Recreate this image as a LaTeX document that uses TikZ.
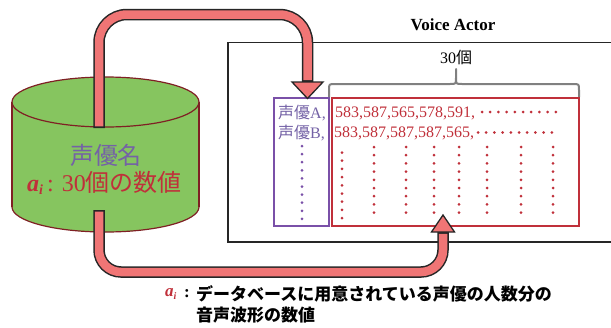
\documentclass[tikz,border=0pt]{standalone}
\usepackage{fontspec}
\setmainfont{Liberation Serif}
\newfontfamily\jp{Noto Sans CJK JP}
\definecolor{arrowpink}{HTML}{F07575}
\definecolor{cylgreen}{HTML}{86C55F}
\definecolor{cylline}{HTML}{7F2024}
\definecolor{vpurple}{HTML}{7A50A8}
\definecolor{tpurple}{HTML}{7462A6}
\definecolor{vred}{HTML}{C0303A}
\definecolor{bracegray}{HTML}{808080}
\tikzset{
  dotmark/.style={circle,inner sep=0pt,minimum size=3pt,fill=#1},
  arrowout/.style={line width=11.5pt,draw=black!85},
  arrowin/.style={line width=8.5pt,draw=arrowpink},
  headstyle/.style={fill=arrowpink,draw=black!85,line width=1.3pt,line join=miter},
}
\begin{document}
\begin{tikzpicture}[x=1pt,y=-1pt]
\useasboundingbox (0,0) rectangle (611,327);
% Voice Actor frame
\draw[line width=1.5pt,black!85] (613,42.5) -- (228,42.5) -- (228,242) -- (613,242);
\node[font=\fontsize{17}{17}\selectfont\bfseries] (title) at (453,25) {Voice Actor};
\node[font=\fontsize{16}{16}\selectfont] (count) at (456,57) {30{\jp 個}};
% brace
\draw[bracegray,line width=2pt,line cap=round]
  (329,97) -- (329,90) .. controls (329,84) .. (335,84) -- (450,84) .. controls (456,84) .. (456,78) -- (456,69);
\draw[bracegray,line width=2pt,line cap=round]
  (456,78) .. controls (456,84) .. (462,84) -- (573,84) .. controls (579,84) .. (579,90) -- (579,97);
% boxes
\node[draw=vpurple,line width=1.5pt,minimum width=55pt,minimum height=128pt,inner sep=0pt] (namebox) at (301.5,162) {};
\node[draw=vred,line width=1.5pt,minimum width=247pt,minimum height=128pt,inner sep=0pt] (valbox) at (455.5,162) {};
% row texts
\node[anchor=west,inner sep=0pt,text=tpurple,font=\fontsize{16}{16}\selectfont] (na) at (278,113) {{\jp 声優}A,};
\node[anchor=west,inner sep=0pt,text=tpurple,font=\fontsize{16}{16}\selectfont] (nb) at (278,133) {{\jp 声優}B,};
\node[anchor=west,inner sep=0pt,text=vred,font=\fontsize{16}{16}\selectfont] (va) at (335,113) {583,587,565,578,591,};
\node[anchor=west,inner sep=0pt,text=vred,font=\fontsize{16}{16}\selectfont] (vb) at (334,133) {583,587,587,587,565,};
% row dots
\foreach \i in {0,...,9} {
  \node[dotmark=vred] at (482+\i*8.2,112) {};
  \node[dotmark=vred] at (478+\i*8.2,132.5) {};
}
% purple column dots
\foreach \i in {0,...,9} {
  \node[dotmark=vpurple] at (302,146+\i*8.1) {};
}
% red column dots
\foreach \i in {0,...,8} {
  \node[dotmark=vred] at (342,152.5+\i*8.2) {};
}
\foreach \x in {374,406,434,459,487,521,553} {
  \foreach \i in {0,...,8} {
    \node[dotmark=vred] at (\x,147+\i*8.2) {};
  }
}
% cylinder
\fill[cylgreen,draw=cylline,line width=1.2pt] (105.5,207) ellipse (93.5 and 25);
\fill[cylgreen] (12,102) rectangle (199,207);
\draw[cylline,line width=1.2pt] (12,102) -- (12,207) (199,102) -- (199,207);
\fill[cylgreen,draw=cylline,line width=1.2pt] (105.5,102) ellipse (93.5 and 25);
\node[text=tpurple,font=\fontsize{24}{24}\selectfont\jp] (dbname) at (106,155) {声優名};
\node[text=vred,font=\fontsize{24}{24}\selectfont] (dbval) at (104.5,183)
  {{\bfseries\itshape a}\raisebox{-0.3ex}{\fontsize{14}{14}\selectfont\bfseries\itshape i}\,: 30{\jp 個の数値}};
% arrow coordinates
\coordinate (s1) at (99,128);
\coordinate (c1) at (99,14.5);
\coordinate (c2) at (307.5,14.5);
\coordinate (e1) at (307.5,82);
\coordinate (t1) at (307.5,98.5);
\coordinate (s2) at (99,210);
\coordinate (c3) at (99,272);
\coordinate (c4) at (443,272);
\coordinate (e2) at (443,232);
\coordinate (t2) at (443,215);
% top arrow
\draw[arrowout,rounded corners=28pt] (s1) -- (c1) -- (c2) -- (e1);
\draw[headstyle] ([xshift=-15.5pt]e1) -- ([xshift=15.5pt]e1) -- (t1) -- cycle;
\draw[arrowin,rounded corners=28pt,shorten <=1.6pt] (s1) -- (c1) -- (c2) -- ([yshift=1.8pt]e1);
% bottom arrow
\draw[arrowout,rounded corners=22pt] (s2) -- (c3) -- (c4) -- (e2);
\draw[headstyle] ([xshift=-11.5pt]e2) -- ([xshift=11.5pt]e2) -- (t2) -- cycle;
\draw[arrowin,rounded corners=22pt,shorten <=1.6pt] (s2) -- (c3) -- (c4) -- ([yshift=-1.8pt]e2);
% legend
\node[anchor=west,inner sep=0pt,text=vred,font=\fontsize{17}{17}\selectfont] (leg) at (165,294)
  {{\bfseries\itshape a}\raisebox{-0.3ex}{\fontsize{10}{10}\selectfont\bfseries\itshape i}};
\node[anchor=west,inner sep=0pt,font=\fontsize{17}{17}\selectfont\bfseries] (legc) at (184,294) {:};
\node[anchor=west,inner sep=0pt,font=\fontsize{17}{17}\selectfont\jp\bfseries] (leg1) at (196,294) {データベースに用意されている声優の人数分の};
\node[anchor=west,inner sep=0pt,font=\fontsize{17}{17}\selectfont\jp\bfseries] (leg2) at (196,315) {音声波形の数値};
\end{tikzpicture}
\end{document}
